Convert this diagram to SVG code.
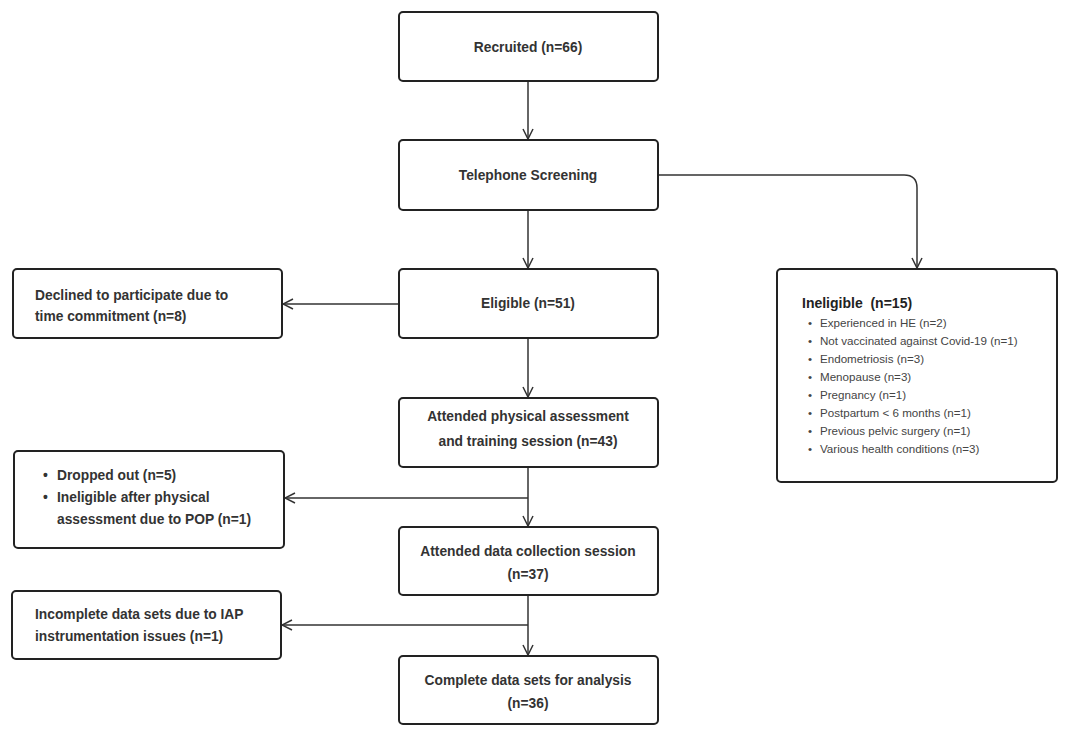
<svg xmlns="http://www.w3.org/2000/svg" width="1080" height="737" viewBox="0 0 1080 737">
<style>
.box{fill:#fff;stroke:#222;stroke-width:2}
.t{font-family:"Liberation Sans",Arial,sans-serif;font-size:13.8px;font-weight:bold;fill:#333}
.s{font-family:"Liberation Sans",Arial,sans-serif;font-size:11.6px;fill:#444}
.h{font-family:"Liberation Sans",Arial,sans-serif;font-size:14px;font-weight:bold;fill:#222}
.c{fill:none;stroke:#333;stroke-width:1.5}
</style>
<defs>
<marker id="a" viewBox="0 0 12 12" refX="11" refY="6" markerWidth="12" markerHeight="12" markerUnits="userSpaceOnUse" orient="auto">
<path d="M1,1 L11,6 L1,11" fill="none" stroke="#333" stroke-width="1.5"/>
</marker>
</defs>
<rect width="1080" height="737" fill="#fff"/>
<g id="connectors">
<path class="c" d="M528,81 V139" marker-end="url(#a)"/>
<path class="c" d="M528,210 V268" marker-end="url(#a)"/>
<path class="c" d="M658,175 H904 Q917,175 917,188 V268" marker-end="url(#a)"/>
<path class="c" d="M399,304 H283" marker-end="url(#a)"/>
<path class="c" d="M528,338 V397" marker-end="url(#a)"/>
<path class="c" d="M528,467 V526" marker-end="url(#a)"/>
<path class="c" d="M528,498 H285" marker-end="url(#a)"/>
<path class="c" d="M528,595 V655" marker-end="url(#a)"/>
<path class="c" d="M528,625 H282" marker-end="url(#a)"/>
</g>
<g id="recruited">
<rect class="box" x="399" y="12" width="259" height="69" rx="4"/>
<text class="t" x="528" y="52" text-anchor="middle">Recruited (n=66)</text>
</g>
<g id="telephone">
<rect class="box" x="399" y="140" width="259" height="70" rx="4"/>
<text class="t" x="528" y="180" text-anchor="middle">Telephone Screening</text>
</g>
<g id="eligible">
<rect class="box" x="399" y="269" width="259" height="69" rx="4"/>
<text class="t" x="528" y="308" text-anchor="middle">Eligible (n=51)</text>
</g>
<g id="declined">
<rect class="box" x="13" y="269" width="269" height="69" rx="4"/>
<text class="t" x="35" y="300">Declined to participate due to</text>
<text class="t" x="35" y="321">time commitment (n=8)</text>
</g>
<g id="ineligible">
<rect class="box" x="777" y="269" width="280" height="213" rx="4"/>
<text class="h" x="802" y="308" xml:space="preserve">Ineligible  (n=15)</text>
<g class="s">
<text x="808" y="327">•</text><text x="820" y="327">Experienced in HE (n=2)</text>
<text x="808" y="345">•</text><text x="820" y="345">Not vaccinated against Covid-19 (n=1)</text>
<text x="808" y="363">•</text><text x="820" y="363">Endometriosis (n=3)</text>
<text x="808" y="381">•</text><text x="820" y="381">Menopause (n=3)</text>
<text x="808" y="399">•</text><text x="820" y="399">Pregnancy (n=1)</text>
<text x="808" y="417">•</text><text x="820" y="417">Postpartum &lt; 6 months (n=1)</text>
<text x="808" y="435">•</text><text x="820" y="435">Previous pelvic surgery (n=1)</text>
<text x="808" y="453">•</text><text x="820" y="453">Various health conditions (n=3)</text>
</g>
</g>
<g id="physical">
<rect class="box" x="399" y="398" width="259" height="69" rx="4"/>
<text class="t" x="528" y="421" text-anchor="middle">Attended physical assessment</text>
<text class="t" x="528" y="446" text-anchor="middle">and training session (n=43)</text>
</g>
<g id="dropped">
<rect class="box" x="14" y="451" width="270" height="97" rx="4"/>
<text class="t" x="43" y="480">•</text><text class="t" x="57" y="480">Dropped out (n=5)</text>
<text class="t" x="43" y="502">•</text><text class="t" x="57" y="502">Ineligible after physical</text>
<text class="t" x="57" y="524">assessment due to POP (n=1)</text>
</g>
<g id="datacollection">
<rect class="box" x="399" y="527" width="259" height="68" rx="4"/>
<text class="t" x="528" y="556" text-anchor="middle">Attended data collection session</text>
<text class="t" x="528" y="579" text-anchor="middle">(n=37)</text>
</g>
<g id="incomplete">
<rect class="box" x="12" y="591" width="269" height="68" rx="4"/>
<text class="t" x="35" y="619">Incomplete data sets due to IAP</text>
<text class="t" x="35" y="641">instrumentation issues (n=1)</text>
</g>
<g id="complete">
<rect class="box" x="399" y="656" width="259" height="68" rx="4"/>
<text class="t" x="528" y="685" text-anchor="middle">Complete data sets for analysis</text>
<text class="t" x="528" y="708" text-anchor="middle">(n=36)</text>
</g>
</svg>
